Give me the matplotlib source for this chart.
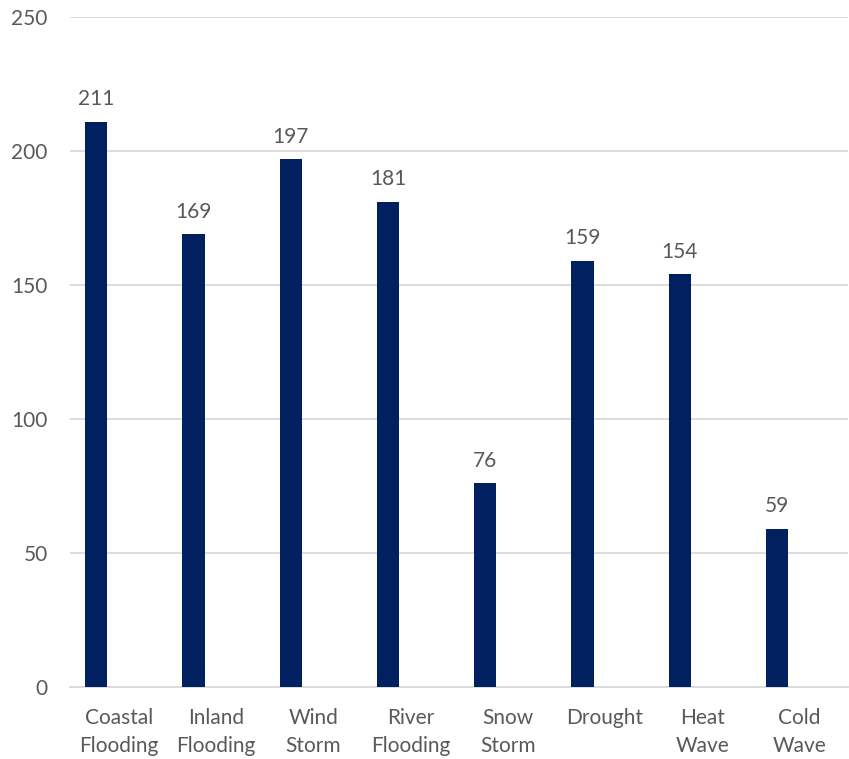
import matplotlib
matplotlib.use("Agg")
import matplotlib.pyplot as plt

categories = ["Coastal\nFlooding", "Inland\nFlooding", "Wind\nStorm", "River\nFlooding",
              "Snow\nStorm", "Drought", "Heat\nWave", "Cold\nWave"]
values = [211, 169, 197, 181, 76, 159, 154, 59]
yticks = [0, 50, 100, 150, 200, 250]

plt.rcParams['font.family'] = ['Lato', 'DejaVu Sans']
text_color = "#595959"
bar_color = "#002060"

fig = plt.figure(figsize=(8.49, 7.59), dpi=100)
ax = fig.add_axes([70/849, 1-687/759, 778/849, (687-17)/759])

x = list(range(len(categories)))
bw = 0.23
xpos = [i - bw for i in x]
bars = ax.bar(xpos, values, width=bw, color=bar_color, align='center', zorder=3)
for xp, v in zip(xpos, values):
    ax.annotate(str(v), (xp, v), xytext=(0, 9), textcoords='offset points',
                ha='center', va='bottom', fontsize=15, color=text_color)

ax.set_xlim(-0.5, len(categories) - 0.5)
ax.set_ylim(0, 250)
ax.set_yticks(yticks)
ax.set_yticklabels([str(t) for t in yticks], fontsize=15, color=text_color)
ax.set_xticks(x)
ax.set_xticklabels(categories, fontsize=15, color=text_color, linespacing=1.5)
ax.tick_params(axis='both', length=0)
ax.tick_params(axis='y', pad=16)
ax.tick_params(axis='x', pad=15)
ax.grid(axis='y', color="#d9d9d9", linewidth=1.3, zorder=0)
for s in ['top', 'right', 'left']:
    ax.spines[s].set_visible(False)
ax.spines['bottom'].set_color("#d9d9d9")
ax.spines['bottom'].set_linewidth(1.3)

fig.savefig("out.png", dpi=100)
